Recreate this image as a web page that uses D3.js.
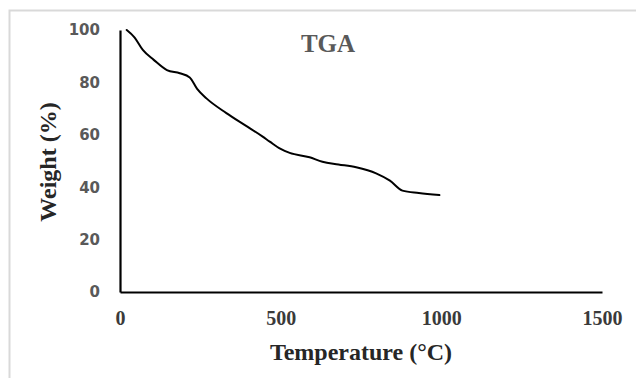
<!DOCTYPE html>
<html>
<head>
<meta charset="utf-8">
<script src="https://cdn.jsdelivr.net/npm/d3@7"></script>
<style>
  html, body { margin: 0; padding: 0; background: #fff; }
  svg { display: block; }
</style>
</head>
<body>
<svg id="chart" width="636" height="378"></svg>
<script>
// TGA weight-loss curve: temperature (°C) vs remaining weight (%)
const temperature = [21, 45, 71, 105, 146, 186, 217, 240, 269, 331, 390, 444, 466, 500, 528, 590, 630, 680, 735, 797, 840, 879, 930, 994];
const weight      = [100, 97.2, 92.4, 88.6, 84.7, 83.5, 81.9, 77.5, 73.9, 68.3, 63.6, 59.3, 57.4, 54.6, 53.1, 51.4, 49.7, 48.7, 47.6, 45.3, 42.5, 38.7, 37.8, 37.0];
const xTicks = [0, 500, 1000, 1500];
const yTicks = [0, 20, 40, 60, 80, 100];

const svg = d3.select("#chart");
const serif = "'Liberation Serif', 'Times New Roman', serif";

// light outer frame
svg.append("rect")
  .attr("x", 9.5).attr("y", 10.5)
  .attr("width", 640).attr("height", 380)
  .attr("fill", "none").attr("stroke", "#d9d9d9").attr("stroke-width", 2);

const x = d3.scaleLinear().domain([0, 1500]).range([120, 602]);
const y = d3.scaleLinear().domain([0, 100]).range([292, 30]);

// axes
const xAxis = svg.append("g")
  .attr("transform", `translate(0,${y(0)})`)
  .call(d3.axisBottom(x).tickValues(xTicks).tickSize(0).tickPadding(19).tickFormat(d3.format("d")));
xAxis.select(".domain").attr("stroke", "#000").attr("stroke-width", 2.2);
xAxis.selectAll("text")
  .attr("font-family", serif)
  .attr("font-weight", "bold").attr("font-size", 20).attr("fill", "#3a3a3a");

const yAxis = svg.append("g")
  .attr("transform", `translate(${x(0)},0)`)
  .call(d3.axisLeft(y).tickValues(yTicks).tickSize(0).tickPadding(20));
yAxis.select(".domain").attr("stroke", "#000").attr("stroke-width", 2.2);
yAxis.selectAll("text")
  .attr("font-family", "'DejaVu Sans', Verdana, sans-serif")
  .attr("font-weight", "bold").attr("font-size", 15).attr("fill", "#595959");

// curve
const pts = temperature.map((t, i) => [t, weight[i]]);
svg.append("path")
  .datum(pts)
  .attr("fill", "none").attr("stroke", "#000").attr("stroke-width", 2)
  .attr("stroke-linejoin", "round").attr("stroke-linecap", "round")
  .attr("d", d3.line().x(d => x(d[0])).y(d => y(d[1])).curve(d3.curveMonotoneX));

// titles
svg.append("text")
  .attr("x", 328).attr("y", 52).attr("text-anchor", "middle")
  .attr("font-family", serif).attr("font-weight", "bold").attr("font-size", 25)
  .attr("fill", "#595959").text("TGA");

svg.append("text")
  .attr("x", 361).attr("y", 360).attr("text-anchor", "middle")
  .attr("font-family", serif).attr("font-weight", "bold").attr("font-size", 24)
  .attr("fill", "#262626").text("Temperature (°C)");

svg.append("text")
  .attr("transform", "translate(56,162) rotate(-90)").attr("text-anchor", "middle")
  .attr("font-family", serif).attr("font-weight", "bold").attr("font-size", 24)
  .attr("fill", "#262626").text("Weight (%)");
</script>
</body>
</html>
